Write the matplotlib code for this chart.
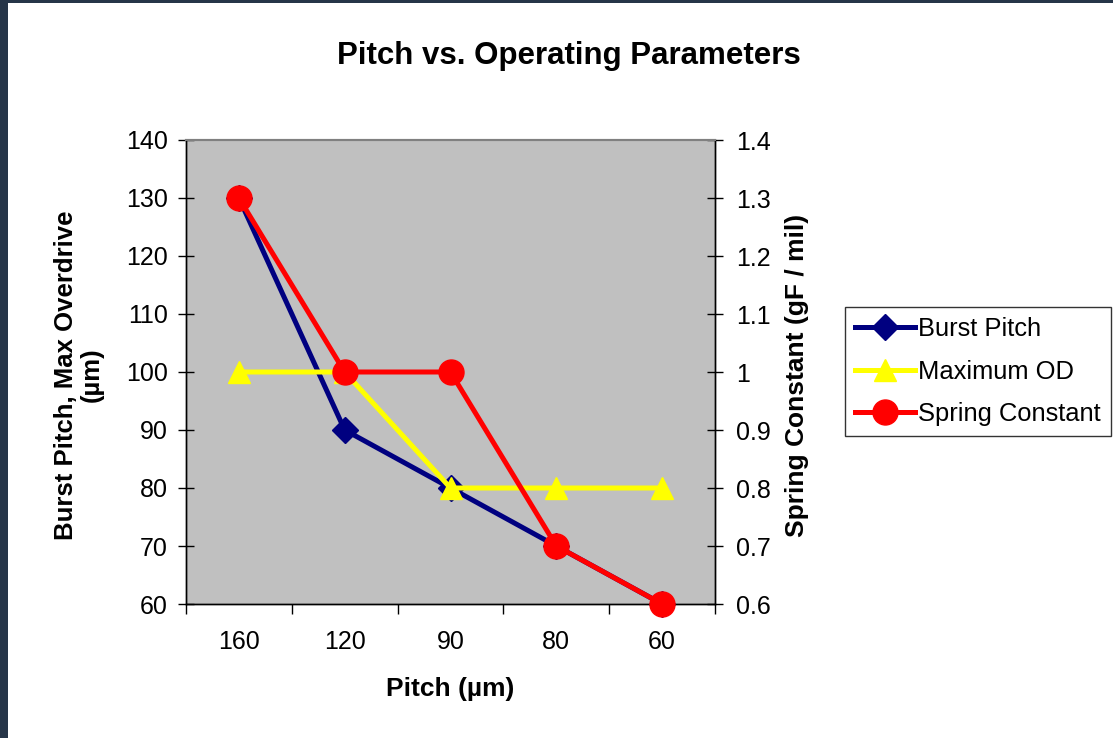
import matplotlib
matplotlib.use("Agg")
import matplotlib.pyplot as plt
from matplotlib.patches import Rectangle

plt.rcParams['font.family'] = ['Liberation Sans', 'DejaVu Sans']

# Data
pitch_labels = ["160", "120", "90", "80", "60"]
burst_pitch = [130, 90, 80, 70, 60]
maximum_od = [100, 100, 80, 80, 80]
spring_constant = [1.3, 1.0, 1.0, 0.7, 0.6]
left_ticks = [60, 70, 80, 90, 100, 110, 120, 130, 140]
right_ticks = [0.6, 0.7, 0.8, 0.9, 1.0, 1.1, 1.2, 1.3, 1.4]
right_tick_labels = ["0.6", "0.7", "0.8", "0.9", "1", "1.1", "1.2", "1.3", "1.4"]

W, H = 1113, 738
fig = plt.figure(figsize=(W / 100, H / 100), dpi=100)
fig.patch.set_facecolor("white")

# dark frame strips along the left and top edges
frame = "#263548"
fig.patches.append(Rectangle((0, 0), 8 / W, 1, transform=fig.transFigure,
                             facecolor=frame, edgecolor="none", zorder=10))
fig.patches.append(Rectangle((0, 1 - 3 / H), 1, 3 / H, transform=fig.transFigure,
                             facecolor=frame, edgecolor="none", zorder=10))

ax = fig.add_axes([186 / W, 1 - 604 / H, (715 - 186) / W, (604 - 140) / H])
ax.set_facecolor("#C0C0C0")
x = list(range(len(pitch_labels)))

l1, = ax.plot(x, burst_pitch, color="#000080", lw=3.6, marker="D", markersize=13,
              label="Burst Pitch", zorder=3, clip_on=False)
l2, = ax.plot(x, maximum_od, color="#FFFF00", lw=3.6, marker="^", markersize=16,
              label="Maximum OD", zorder=4, clip_on=False)
ax.set_xlim(-0.5, len(pitch_labels) - 0.5)
ax.set_ylim(60, 140)
ax.set_yticks(left_ticks)
ax.set_xticks(x)
ax.set_xticklabels(pitch_labels)
ax.set_xticks([i - 0.5 for i in range(len(pitch_labels) + 1)], minor=True)
ax.tick_params(axis="x", which="major", length=0, pad=19, labelsize=18)
ax.tick_params(axis="x", which="minor", length=7, width=1, direction="out")
ax.tick_params(axis="y", length=12, width=1, direction="inout", pad=7, labelsize=18)

ax2 = ax.twinx()
l3, = ax2.plot(x, spring_constant, color="#FF0000", lw=3.6, marker="o", markersize=18,
               label="Spring Constant", zorder=5, clip_on=False)
ax2.set_ylim(0.6, 1.4)
ax2.set_yticks(right_ticks)
ax2.set_yticklabels(right_tick_labels)
ax2.tick_params(axis="y", length=12, width=1, direction="inout", pad=9, labelsize=18)

for a in (ax, ax2):
    for s in ("left", "right", "bottom"):
        a.spines[s].set_color("black")
        a.spines[s].set_linewidth(1)
    a.spines["top"].set_color("#808080")
    a.spines["top"].set_linewidth(1.5)

fig.text(569 / W, 1 - 56 / H, "Pitch vs. Operating Parameters", fontsize=22.5,
         fontweight="bold", ha="center", va="center")
fig.text(450 / W, 1 - 689 / H, "Pitch (\u00b5m)", fontsize=19, fontweight="bold",
         ha="center", va="center")
fig.text(79 / W, 1 - 375 / H, "Burst Pitch, Max Overdrive\n(\u00b5m)", fontsize=18.5,
         fontweight="bold", ha="center", va="center", rotation=90, linespacing=1.1)
fig.text(797 / W, 1 - 375 / H, "Spring Constant (gF / mil)", fontsize=19,
         fontweight="bold", ha="center", va="center", rotation=90)

leg = fig.legend([l1, l2, l3], ["Burst Pitch", "Maximum OD", "Spring Constant"],
                 loc="upper left", bbox_to_anchor=(845 / W, 1 - 307 / H),
                 bbox_transform=fig.transFigure, fontsize=18.4, frameon=True,
                 fancybox=False, edgecolor="black", handlelength=2.35,
                 handletextpad=0.1, borderpad=0.4, labelspacing=0.72,
                 borderaxespad=0)
leg.get_frame().set_linewidth(1)

fig.savefig("out.png", dpi=100)
